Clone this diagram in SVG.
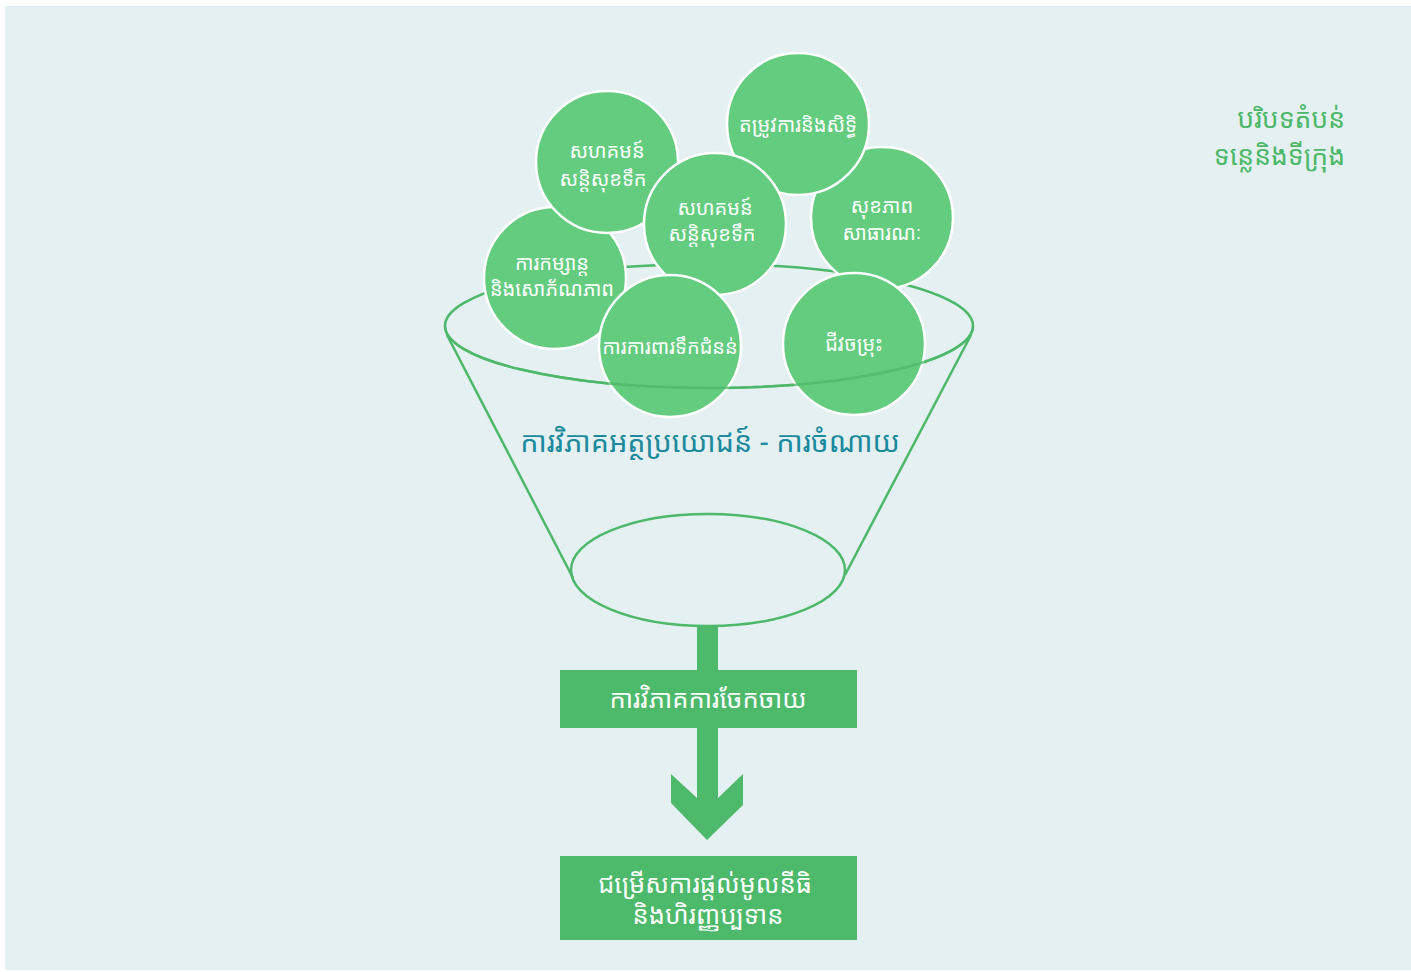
<svg xmlns="http://www.w3.org/2000/svg" width="1411" height="972" viewBox="0 0 1411 972">
  <style>
    .bubble { fill: #63cc7f; stroke: #ffffff; stroke-width: 2.5; }
    .bubble-text { fill: #ffffff; font-family: "Noto Sans Khmer", "Khmer OS", "Noto Sans", "DejaVu Sans", sans-serif; font-size: 20px; text-anchor: middle; }
    .funnel { fill: none; stroke: #4db86a; stroke-width: 2.5; }
    .box { fill: #4db96b; }
    .box-text { fill: #ffffff; font-family: "Noto Sans Khmer", "Khmer OS", "Noto Sans", "DejaVu Sans", sans-serif; font-size: 25.5px; text-anchor: middle; }
    .title { fill: #1a8a9c; font-family: "Noto Sans Khmer", "Khmer OS", "Noto Sans", "DejaVu Sans", sans-serif; font-size: 28.7px; text-anchor: middle; }
    .context { fill: #4cb86a; font-family: "Noto Sans Khmer", "Khmer OS", "Noto Sans", "DejaVu Sans", sans-serif; font-size: 26.5px; text-anchor: end; }
  </style>

  <rect x="0" y="0" width="1411" height="972" fill="#ffffff"/>
  <rect x="5" y="6" width="1406" height="964" fill="#e4f0f2"/>

  <!-- funnel body: rim, sides and neck -->
  <g id="funnel">
    <ellipse class="funnel" cx="709" cy="326" rx="264" ry="62"/>
    <line class="funnel" x1="447" y1="335" x2="573" y2="578"/>
    <line class="funnel" x1="971" y1="335" x2="845" y2="575"/>
    <ellipse class="funnel" cx="708" cy="570" rx="137" ry="56"/>
  </g>

  <!-- topic bubbles, back to front -->
  <g id="bubble-recreation">
    <circle class="bubble" cx="555" cy="278" r="71"/>
    <text class="bubble-text" x="552" y="270">ការកម្សាន្ត</text>
    <text class="bubble-text" x="552" y="296">និងសោភ័ណភាព</text>
  </g>
  <g id="bubble-health">
    <circle class="bubble" cx="882" cy="218" r="71"/>
    <text class="bubble-text" x="882" y="213">សុខភាព</text>
    <text class="bubble-text" x="882" y="240">សាធារណៈ</text>
  </g>
  <g id="bubble-community-a">
    <circle class="bubble" cx="607" cy="162" r="71"/>
    <text class="bubble-text" x="607" y="158">សហគមន៍</text>
    <text class="bubble-text" x="603" y="186">សន្តិសុខទឹក</text>
  </g>
  <g id="bubble-needs">
    <circle class="bubble" cx="798" cy="124" r="71"/>
    <text class="bubble-text" x="798" y="132">តម្រូវការនិងសិទ្ធិ</text>
  </g>
  <g id="bubble-community-b">
    <circle class="bubble" cx="715" cy="224" r="71"/>
    <text class="bubble-text" x="715" y="215">សហគមន៍</text>
    <text class="bubble-text" x="712" y="241">សន្តិសុខទឹក</text>
  </g>
  <g id="bubble-flood">
    <circle class="bubble" cx="670" cy="346" r="71"/>
    <text class="bubble-text" x="670" y="354">ការការពារទឹកជំនន់</text>
  </g>
  <g id="bubble-biodiversity">
    <circle class="bubble" cx="854" cy="344" r="71"/>
    <text class="bubble-text" x="854" y="351">ជីវចម្រុះ</text>
  </g>

  <!-- front edge of the rim, seen through the bubbles -->
  <path class="funnel" d="M 445 326 A 264 62 0 0 0 973 326" stroke-opacity="0.75"/>

  <g id="funnel-title">
    <text class="title" x="710" y="452">ការវិភាគអត្ថប្រយោជន៍ - ការចំណាយ</text>
  </g>

  <g id="context-label">
    <text class="context" x="1345" y="128">បរិបទតំបន់</text>
    <text class="context" x="1345" y="165">ទន្លេនិងទីក្រុង</text>
  </g>

  <g id="connectors">
    <rect class="box" x="697" y="626" width="21" height="46"/>
    <polygon class="box" points="697,726 718,726 718,798 743,774 743,805 707,840 671,803 671,774 697,798"/>
  </g>

  <g id="distribution-analysis">
    <rect class="box" x="560" y="670" width="297" height="58"/>
    <text class="box-text" x="708" y="708">ការវិភាគការចែកចាយ</text>
  </g>

  <g id="financing-options">
    <rect class="box" x="560" y="856" width="297" height="84"/>
    <text class="box-text" x="705" y="893">ជម្រើសការផ្តល់មូលនីធិ</text>
    <text class="box-text" x="708" y="924">និងហិរញ្ញប្បទាន</text>
  </g>
</svg>
